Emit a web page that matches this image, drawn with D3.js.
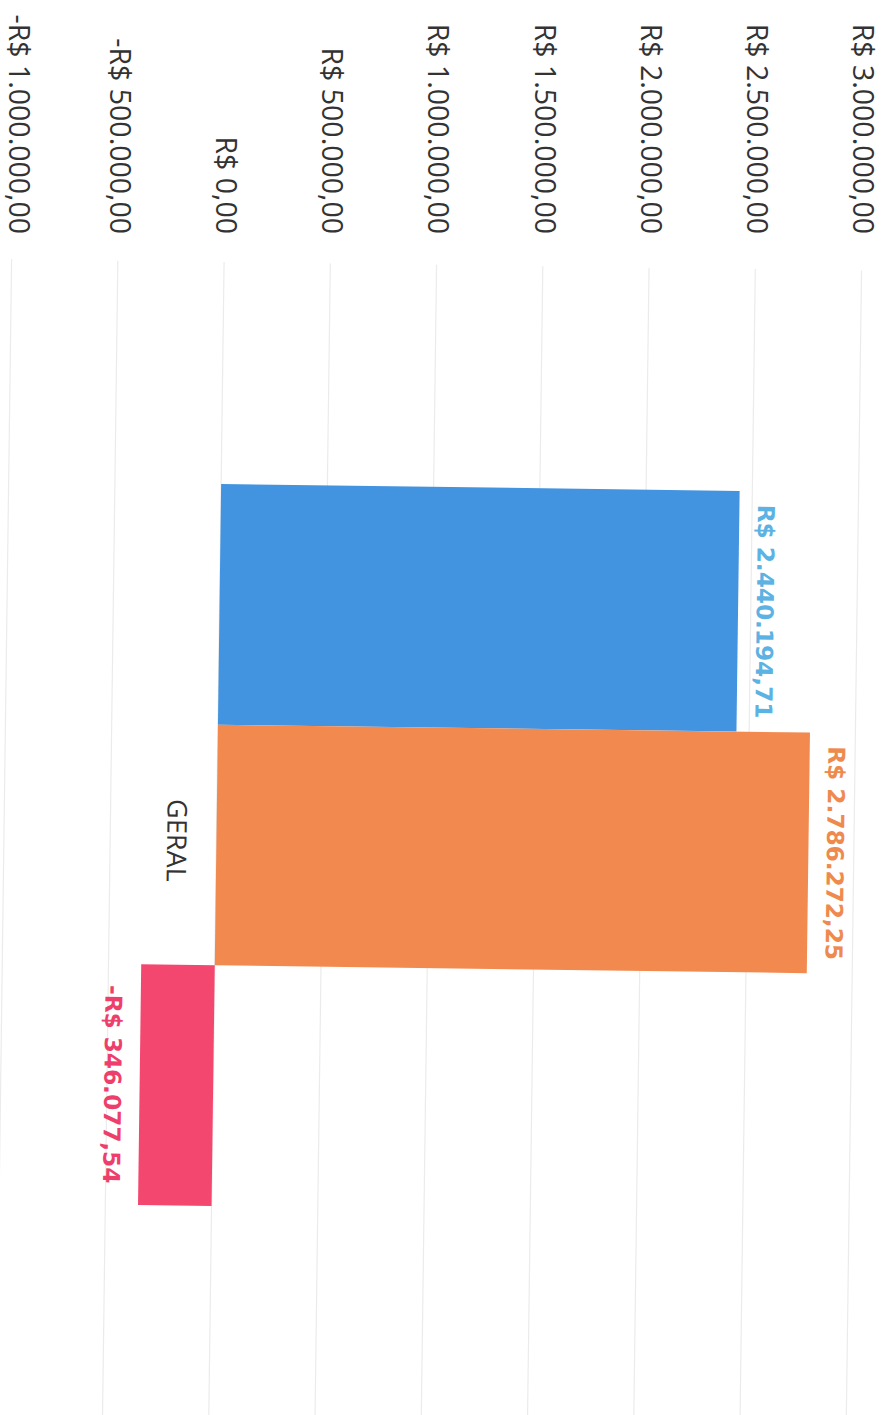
<!DOCTYPE html>
<html>
<head>
<meta charset="utf-8">
<script src="https://cdn.jsdelivr.net/npm/d3@7"></script>
<style>
  html, body { margin: 0; padding: 0; background: #ffffff; }
  svg { display: block; }
</style>
</head>
<body>
<svg id="chart" width="888" height="1415"></svg>
<script>
// Chart values
const categories = ["GERAL"];
const seriesValues = [2440194.71, 2786272.25, -346077.54];
const seriesColors = ["#4293e0", "#f28a50", "#f4476f"];
const labelColors  = ["#5cb2e2", "#ef8a4e", "#ee3f6c"];
const tickValues = [-1000000, -500000, 0, 500000, 1000000, 1500000, 2000000, 2500000, 3000000];

// pt-BR currency formatting
const brl = d3.formatLocale({
  decimal: ",", thousands: ".", grouping: [3],
  currency: ["R$ ", ""], minus: "-"
}).format("$,.2f");

const svg = d3.select("#chart");

// The page is printed sideways: value axis runs left->right, categories top->bottom
const x = d3.scaleLinear().domain([-1000000, 3000000]).range([5.7, 855.7]);
const y = d3.scaleBand().domain(categories).range([265, 1431])
  .paddingInner(0).paddingOuter(0.3075);
const ySeries = d3.scaleBand().domain(d3.range(seriesValues.length))
  .range([0, y.bandwidth()]).padding(0);

// slight skew of the sheet
const tilt = 0.76, cx = 444, cy = 707;
const rad = tilt * Math.PI / 180;
const tiltPoint = (px, py) => [
  cx + (px - cx) * Math.cos(rad) - (py - cy) * Math.sin(rad),
  cy + (px - cx) * Math.sin(rad) + (py - cy) * Math.cos(rad)
];

const plot = svg.append("g").attr("transform", `rotate(${tilt},${cx},${cy})`);

// grid lines
plot.append("g").selectAll("line").data(tickValues).join("line")
  .attr("x1", d => x(d)).attr("x2", d => x(d))
  .attr("y1", 265).attr("y2", 1431)
  .attr("stroke", "#ebebeb").attr("stroke-width", 1.2);

// bars
const cat = categories[0];
plot.append("g").selectAll("rect").data(seriesValues).join("rect")
  .attr("x", d => Math.min(x(0), x(d)))
  .attr("width", d => Math.abs(x(d) - x(0)))
  .attr("y", (d, i) => y(cat) + ySeries(i))
  .attr("height", ySeries.bandwidth())
  .attr("fill", (d, i) => seriesColors[i]);

// value labels
plot.append("g").selectAll("text").data(seriesValues).join("text")
  .attr("transform", (d, i) => {
    const px = x(d) + (d >= 0 ? 27 : -27);
    const py = y(cat) + ySeries(i) + ySeries.bandwidth() / 2;
    return `translate(${px},${py}) rotate(90)`;
  })
  .attr("text-anchor", "middle")
  .attr("dy", "0.36em")
  .attr("font-family", "DejaVu Sans")
  .attr("font-weight", "bold")
  .attr("font-size", 23.2)
  .attr("fill", (d, i) => labelColors[i])
  .text(d => brl(d));

// category label
plot.append("text")
  .attr("transform", `translate(${x(0) - 39.5},${y(cat) + y.bandwidth() / 2 - 4}) rotate(90)`)
  .attr("text-anchor", "middle")
  .attr("dy", "0.36em")
  .attr("font-family", "Open Sans")
  .attr("font-size", 27)
  .attr("fill", "#333")
  .text(cat);

// value axis tick labels
svg.append("g").selectAll("text").data(tickValues).join("text")
  .attr("transform", d => {
    const [px] = tiltPoint(x(d), 265);
    return `translate(${Math.max(px + 2, 19)},234) rotate(90)`;
  })
  .attr("text-anchor", "end")
  .attr("dy", "0.36em")
  .attr("font-family", "Open Sans")
  .attr("font-size", 28.5)
  .attr("fill", "#333")
  .text(d => brl(d));
</script>
</body>
</html>
